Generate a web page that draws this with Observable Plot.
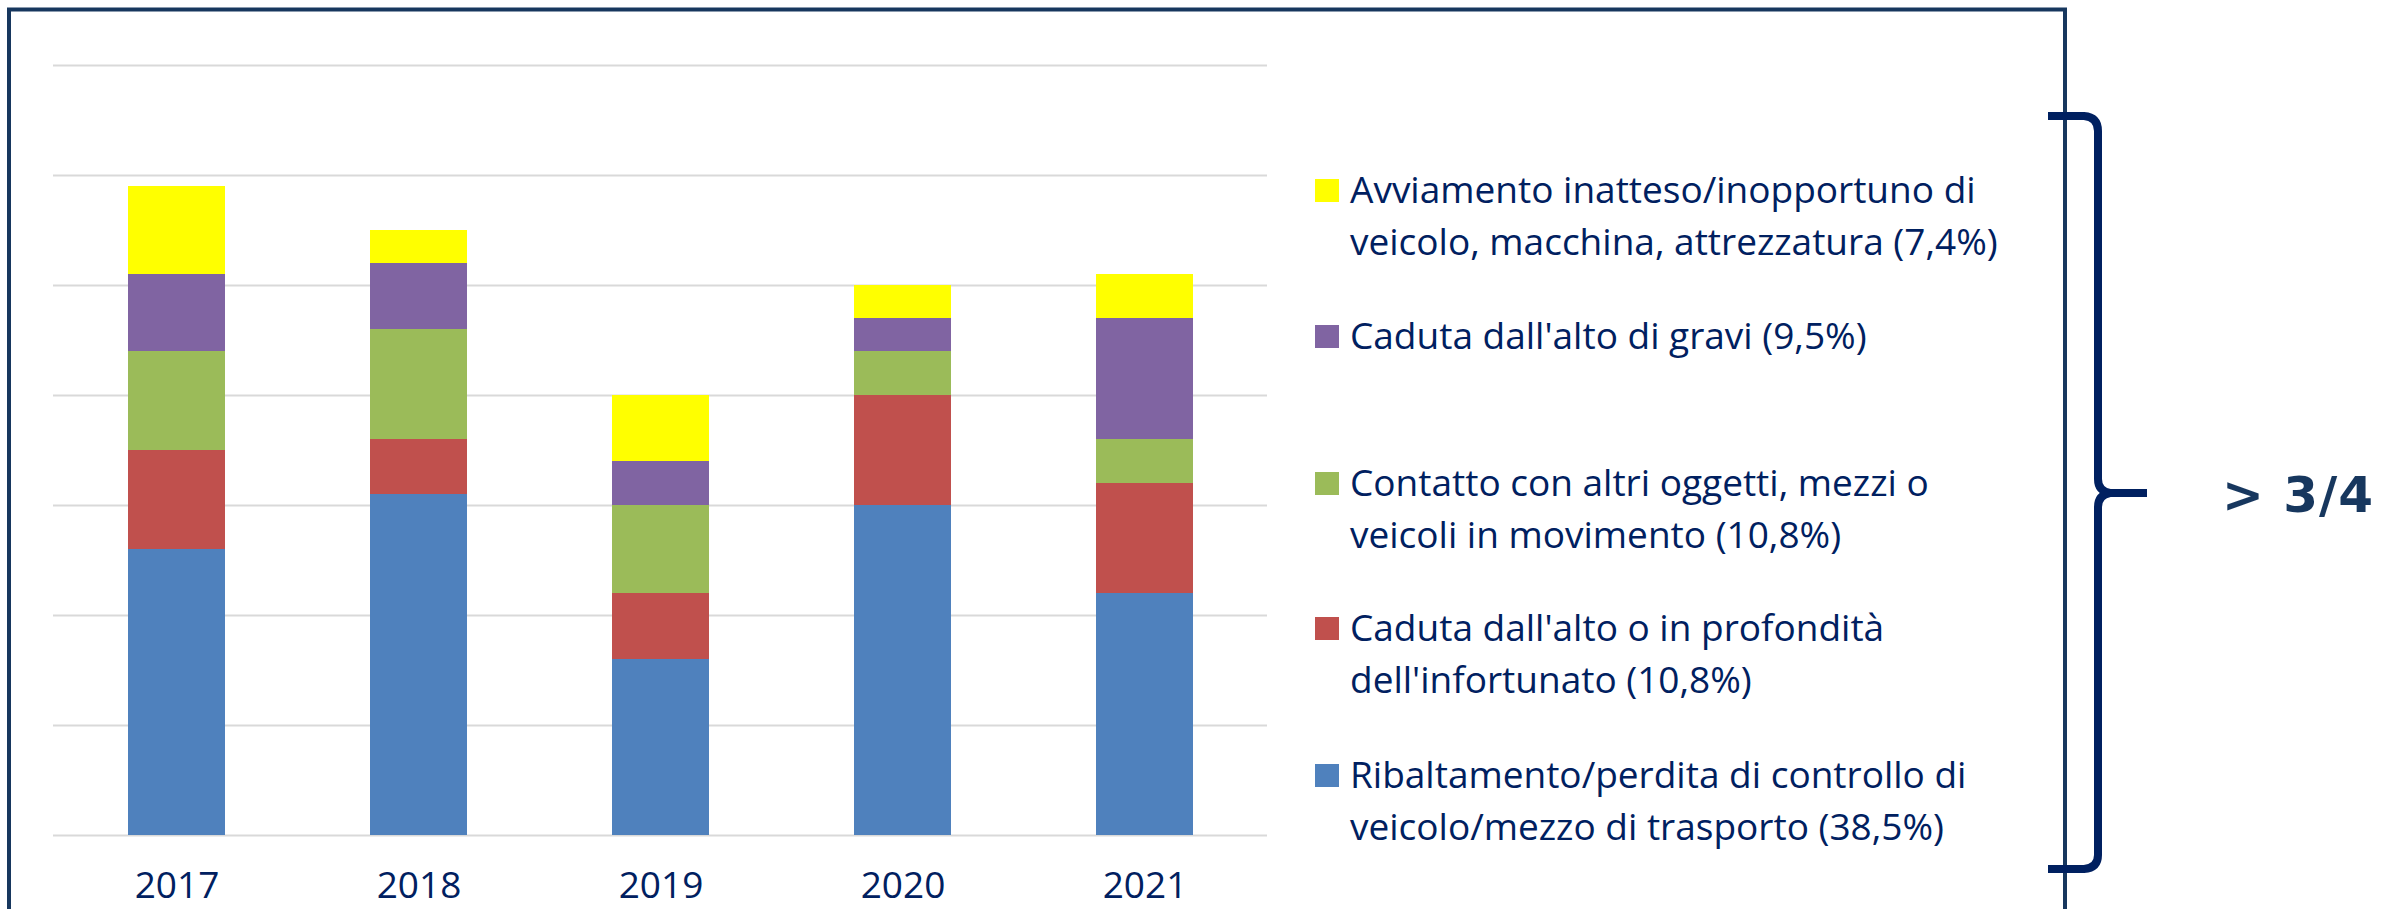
<!DOCTYPE html>
<html>
<head>
<meta charset="utf-8">
<script src="https://cdn.jsdelivr.net/npm/d3@7"></script>
<script src="https://cdn.jsdelivr.net/npm/@observablehq/plot@0.6"></script>
<style>
  html, body { margin: 0; padding: 0; background: #fff; overflow: hidden; }
  #wrap { position: relative; width: 2382px; height: 909px; }
  #wrap > svg { position: absolute; left: 0; top: 0; }
</style>
</head>
<body>
<div id="wrap"></div>
<script>
// ---- data (one gridline = 10) ----
const years = ["2017", "2018", "2019", "2020", "2021"];
const seriesNames = [
  "Ribaltamento/perdita di controllo",
  "Caduta dall'alto o in profondità",
  "Contatto con altri oggetti",
  "Caduta dall'alto di gravi",
  "Avviamento inatteso/inopportuno"
];
const ribaltamento      = [26, 31, 16, 30, 22];
const cadutaInfortunato = [9, 5, 6, 10, 10];
const contatto          = [9, 10, 8, 4, 4];
const cadutaGravi       = [7, 6, 4, 3, 11];
const avviamento        = [8, 3, 6, 3, 4];
const seriesColors = ["#4F81BD", "#C0504D", "#9BBB59", "#8064A2", "#FFFF00"];
const gridTicks = [0, 10, 20, 30, 40, 50, 60, 70];

// legend, top to bottom as in the picture
const legendLines = [
  ["Avviamento inatteso/inopportuno di", "veicolo, macchina, attrezzatura (7,4%)"],
  ["Caduta dall'alto di gravi (9,5%)"],
  ["Contatto con altri oggetti, mezzi o", "veicoli in movimento (10,8%)"],
  ["Caduta dall'alto o in profondità", "dell'infortunato (10,8%)"],
  ["Ribaltamento/perdita di controllo di", "veicolo/mezzo di trasporto (38,5%)"]
];
const legendColors = ["#FFFF00", "#8064A2", "#9BBB59", "#C0504D", "#4F81BD"];
const annotation = "> 3/4";

// ---- build table ----
const seriesValues = [ribaltamento, cadutaInfortunato, contatto, cadutaGravi, avviamento];
const rows = [];
seriesNames.forEach((s, i) => {
  years.forEach((y, j) => rows.push({year: y, series: s, value: seriesValues[i][j]}));
});

const W = 2382, H = 909;
const chart = Plot.plot({
  width: W,
  height: H,
  marginLeft: 53,
  marginRight: W - 1267,
  marginTop: 65,
  marginBottom: H - 835,
  x: {domain: years, paddingInner: 0.6, paddingOuter: 0.3, axis: null},
  y: {domain: [0, 70], axis: null},
  color: {domain: seriesNames, range: seriesColors},
  style: {fontFamily: "'Open Sans', sans-serif", color: "#002060", background: "transparent"},
  marks: [
    Plot.gridY(gridTicks, {stroke: "#D9D9D9", strokeWidth: 2, strokeOpacity: 1}),
    Plot.barY(rows, {x: "year", y: "value", fill: "series", order: seriesNames}),
    Plot.axisX({tickSize: 0, tickPadding: 36, fontSize: 37, fill: "#002060", label: null})
  ]
});
const wrap = document.getElementById("wrap");
wrap.appendChild(chart);

// ---- overlay: frame, legend, brace, annotation ----
const svg = d3.select(wrap).append("svg")
  .attr("width", W).attr("height", H)
  .style("pointer-events", "none");

svg.append("path")
  .attr("d", "M9,912 V9.5 H2065 V912")
  .attr("fill", "none")
  .attr("stroke", "#17375E")
  .attr("stroke-width", 4);

const firstBaselines = [203, 349, 496, 641, 788];
const lineGap = 52;
const lg = svg.append("g").attr("font-family", "'Open Sans', sans-serif").attr("font-size", 37).attr("fill", "#002060");
legendLines.forEach((lines, i) => {
  const b = firstBaselines[i];
  lg.append("rect")
    .attr("x", 1315).attr("y", b - 24).attr("width", 24).attr("height", 23)
    .attr("fill", legendColors[i]);
  lines.forEach((t, k) => {
    lg.append("text").attr("x", 1350).attr("y", b + k * lineGap).text(t);
  });
});

svg.append("path")
  .attr("d", "M2048,116 L2084,116 Q2098,117 2098,131 L2098,479 Q2098,491 2110,493 L2147,493 M2110,493 Q2098,495 2098,507 L2098,855 Q2098,868 2084,869 L2048,869")
  .attr("fill", "none")
  .attr("stroke", "#002060")
  .attr("stroke-width", 8);

svg.append("text")
  .attr("x", 2222).attr("y", 512)
  .attr("font-family", "'DejaVu Sans', sans-serif")
  .attr("font-weight", "bold")
  .attr("font-size", 50)
  .attr("letter-spacing", 1)
  .attr("fill", "#17375E")
  .text(annotation);
</script>
</body>
</html>
